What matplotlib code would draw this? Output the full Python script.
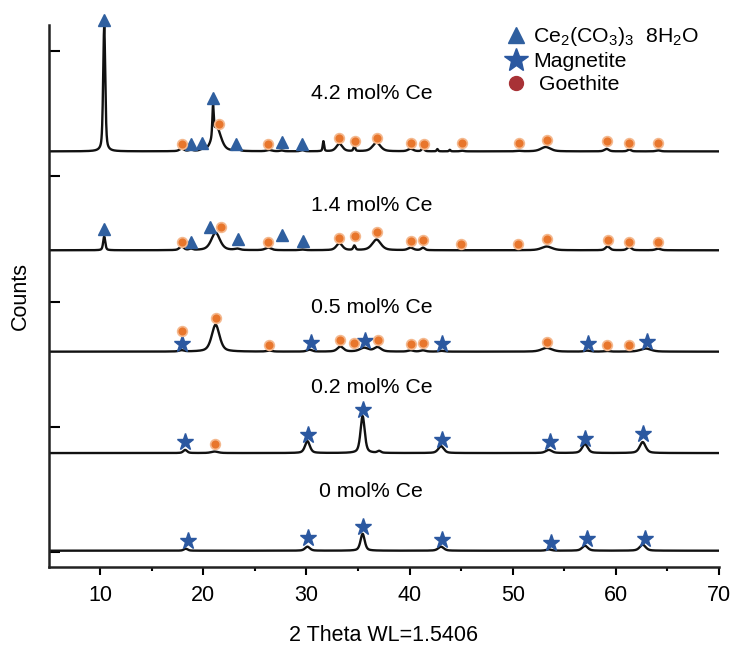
import numpy as np
import matplotlib
matplotlib.use('Agg')
import matplotlib.pyplot as plt
from matplotlib.lines import Line2D

plt.rcParams['font.family'] = ['Liberation Sans', 'DejaVu Sans']

# peak tables: position (2 theta), height, half width
pos_42 = [10.4, 17.9, 18.8, 19.9, 20.95, 21.3, 23.3, 26.4, 27.6, 29.6, 31.65, 33.2, 34.65, 36.8, 40.1, 41.3, 42.7, 43.9, 45.1, 50.6, 53.2, 59.1, 61.3, 64.1]
h_42 = [1.0, 0.02, 0.01, 0.01, 0.24, 0.19, 0.015, 0.01, 0.006, 0.01, 0.08, 0.06, 0.04, 0.07, 0.02, 0.025, 0.018, 0.012, 0.005, 0.004, 0.035, 0.02, 0.014, 0.008]
w_42 = [0.12, 0.25, 0.2, 0.2, 0.08, 0.5, 0.25, 0.3, 0.2, 0.2, 0.08, 0.35, 0.1, 0.45, 0.3, 0.15, 0.08, 0.08, 0.2, 0.3, 0.55, 0.25, 0.2, 0.25]

pos_14 = [10.4, 17.9, 18.8, 21.2, 23.3, 26.3, 29.6, 33.2, 34.65, 36.8, 40.1, 41.3, 53.3, 59.2, 61.3, 64.1]
h_14 = [0.11, 0.03, 0.01, 0.14, 0.01, 0.02, 0.005, 0.055, 0.035, 0.085, 0.02, 0.02, 0.03, 0.03, 0.025, 0.012]
w_14 = [0.12, 0.25, 0.2, 0.5, 0.3, 0.35, 0.3, 0.35, 0.12, 0.5, 0.3, 0.2, 0.6, 0.25, 0.25, 0.3]

pos_05 = [17.9, 21.2, 26.4, 30.3, 33.3, 35.6, 36.9, 40.1, 41.3, 43.1, 53.3, 57.2, 59.1, 62.9]
h_05 = [0.01, 0.215, 0.008, 0.015, 0.04, 0.03, 0.035, 0.01, 0.01, 0.006, 0.03, 0.008, 0.005, 0.025]
w_05 = [0.3, 0.45, 0.3, 0.3, 0.35, 0.5, 0.4, 0.3, 0.3, 0.3, 0.6, 0.3, 0.3, 0.6]

pos_02 = [18.25, 21.1, 30.1, 35.45, 37.05, 43.05, 53.5, 57.0, 62.6]
h_02 = [0.025, 0.012, 0.095, 0.295, 0.015, 0.055, 0.025, 0.072, 0.088]
w_02 = [0.22, 0.4, 0.28, 0.24, 0.2, 0.32, 0.35, 0.32, 0.34]

pos_00 = [18.3, 30.1, 35.45, 43.05, 53.5, 57.0, 62.6]
h_00 = [0.016, 0.032, 0.135, 0.032, 0.01, 0.04, 0.048]
w_00 = [0.22, 0.28, 0.24, 0.32, 0.3, 0.32, 0.34]

# vertical offsets of the stacked patterns
offsets = [3.20, 2.41, 1.60, 0.79, 0.01]
labels = ['4.2 mol% Ce', '1.4 mol% Ce', '0.5 mol% Ce', '0.2 mol% Ce', '0 mol% Ce']
label_y = [3.665, 2.77, 1.95, 1.31, 0.48]

# phase markers (x, height above the pattern baseline)
tri_42_x = [10.4, 18.8, 19.9, 20.95, 23.2, 27.6, 29.6]
tri_42_y = [1.05, 0.056, 0.064, 0.43, 0.056, 0.072, 0.056]
dot_42_x = [17.9, 21.5, 26.3, 33.2, 34.75, 36.8, 40.1, 41.4, 45.1, 50.6, 53.3, 59.1, 61.3, 64.1]
dot_42_y = [0.056, 0.22, 0.056, 0.104, 0.08, 0.104, 0.064, 0.056, 0.064, 0.064, 0.088, 0.08, 0.064, 0.064]

tri_14_x = [10.4, 18.8, 20.7, 23.4, 27.6, 29.7]
tri_14_y = [0.17, 0.064, 0.184, 0.088, 0.12, 0.072]
dot_14_x = [17.9, 21.7, 26.3, 33.2, 34.75, 36.8, 40.1, 41.3, 45.0, 50.5, 53.3, 59.2, 61.3, 64.1]
dot_14_y = [0.064, 0.184, 0.064, 0.096, 0.112, 0.144, 0.072, 0.08, 0.048, 0.048, 0.088, 0.08, 0.064, 0.064]

star_05_x = [17.9, 30.4, 35.7, 43.1, 57.3, 63.0]
star_05_y = [0.064, 0.072, 0.088, 0.064, 0.064, 0.08]
dot_05_x = [17.9, 21.2, 26.4, 33.3, 34.6, 36.9, 40.1, 41.3, 53.3, 59.1, 61.3]
dot_05_y = [0.168, 0.27, 0.056, 0.096, 0.072, 0.096, 0.064, 0.072, 0.08, 0.056, 0.056]

star_02_x = [18.25, 30.2, 35.5, 43.1, 53.6, 57.0, 62.6]
star_02_y = [0.088, 0.144, 0.343, 0.104, 0.088, 0.112, 0.152]
dot_02_x = [21.1]
dot_02_y = [0.072]

star_00_x = [18.5, 30.2, 35.5, 43.1, 53.7, 57.2, 62.8]
star_00_y = [0.08, 0.104, 0.19, 0.088, 0.064, 0.096, 0.096]

TRI_C = '#2f5f9f'
STAR_C = '#2b58a0'
DOT_C = '#e8762c'
DOT_EDGE = '#f4b88e'


def pattern(x, pos, h, w):
    # pseudo-voigt sum of the read peaks
    y = np.zeros_like(x)
    for p, a, g in zip(pos, h, w):
        d = (x - p) / g
        y += a * (0.5 / (1 + d ** 2) + 0.5 * np.exp(-np.log(2) * d ** 2))
    return y


x = np.linspace(5, 70, 4000)
peaks = [(pos_42, h_42, w_42), (pos_14, h_14, w_14), (pos_05, h_05, w_05),
         (pos_02, h_02, w_02), (pos_00, h_00, w_00)]

fig = plt.figure(figsize=(7.44, 6.55), dpi=100)
ax = fig.add_axes([0.0652, 0.1344, 0.9012, 0.8275])

for (pos, h, w), off in zip(peaks, offsets):
    ax.plot(x, pattern(x, pos, h, w) + off, color='#111111', lw=1.7, zorder=2)

for lab, ly in zip(labels, label_y):
    ax.text(36.3, ly, lab, ha='center', va='center', fontsize=15.3)


def tri(xs, ys, off):
    ax.plot(xs, np.array(ys) + off, ls='none', marker='^', ms=8, color=TRI_C,
            zorder=3, clip_on=False)


def star(xs, ys, off):
    ax.plot(xs, np.array(ys) + off, ls='none', marker='*', ms=12.5, color=STAR_C,
            zorder=3, clip_on=False)


def dot(xs, ys, off):
    ax.plot(xs, np.array(ys) + off, ls='none', marker='o', ms=7, color=DOT_C,
            mec=DOT_EDGE, mew=1.2, zorder=3, clip_on=False)


tri(tri_42_x, tri_42_y, offsets[0])
dot(dot_42_x, dot_42_y, offsets[0])
tri(tri_14_x, tri_14_y, offsets[1])
dot(dot_14_x, dot_14_y, offsets[1])
star(star_05_x, star_05_y, offsets[2])
dot(dot_05_x, dot_05_y, offsets[2])
star(star_02_x, star_02_y, offsets[3])
dot(dot_02_x, dot_02_y, offsets[3])
star(star_00_x, star_00_y, offsets[4])

handles = [Line2D([], [], ls='none', marker='^', ms=12, color=TRI_C),
           Line2D([], [], ls='none', marker='*', ms=18, color=STAR_C),
           Line2D([], [], ls='none', marker='o', ms=10, color='#a83236')]
names = [r'Ce$_\mathregular{2}$(CO$_\mathregular{3}$)$_\mathregular{3}$  8H$_\mathregular{2}$O',
         'Magnetite', ' Goethite']
ax.legend(handles, names, loc='upper left', bbox_to_anchor=(0.682, 1.0), frameon=False,
          fontsize=15.3, handlelength=1.0, handletextpad=0.3, labelspacing=0.2,
          borderpad=0, borderaxespad=0)

ax.set_xlim(5, 70)
ax.set_ylim(-0.12, 4.21)
ax.set_xticks(np.arange(10, 71, 10))
ax.set_xticks(np.arange(15, 70, 10), minor=True)
ax.set_yticks(np.arange(0, 5, 1))
ax.set_yticklabels([])
ax.tick_params(axis='x', which='major', direction='out', length=6, width=1.5, labelsize=15.5, pad=7)
ax.tick_params(axis='x', which='minor', direction='out', length=3, width=1.5)
ax.tick_params(axis='y', direction='in', length=8, width=1.5)
for s in ['top', 'right']:
    ax.spines[s].set_visible(False)
for s in ['left', 'bottom']:
    ax.spines[s].set_linewidth(1.8)
    ax.spines[s].set_color('#222222')

ax.set_xlabel('2 Theta WL=1.5406', fontsize=15.5, labelpad=14)
ax.set_ylabel('Counts', fontsize=15.5, labelpad=9)

plt.savefig('out.png', dpi=100)
